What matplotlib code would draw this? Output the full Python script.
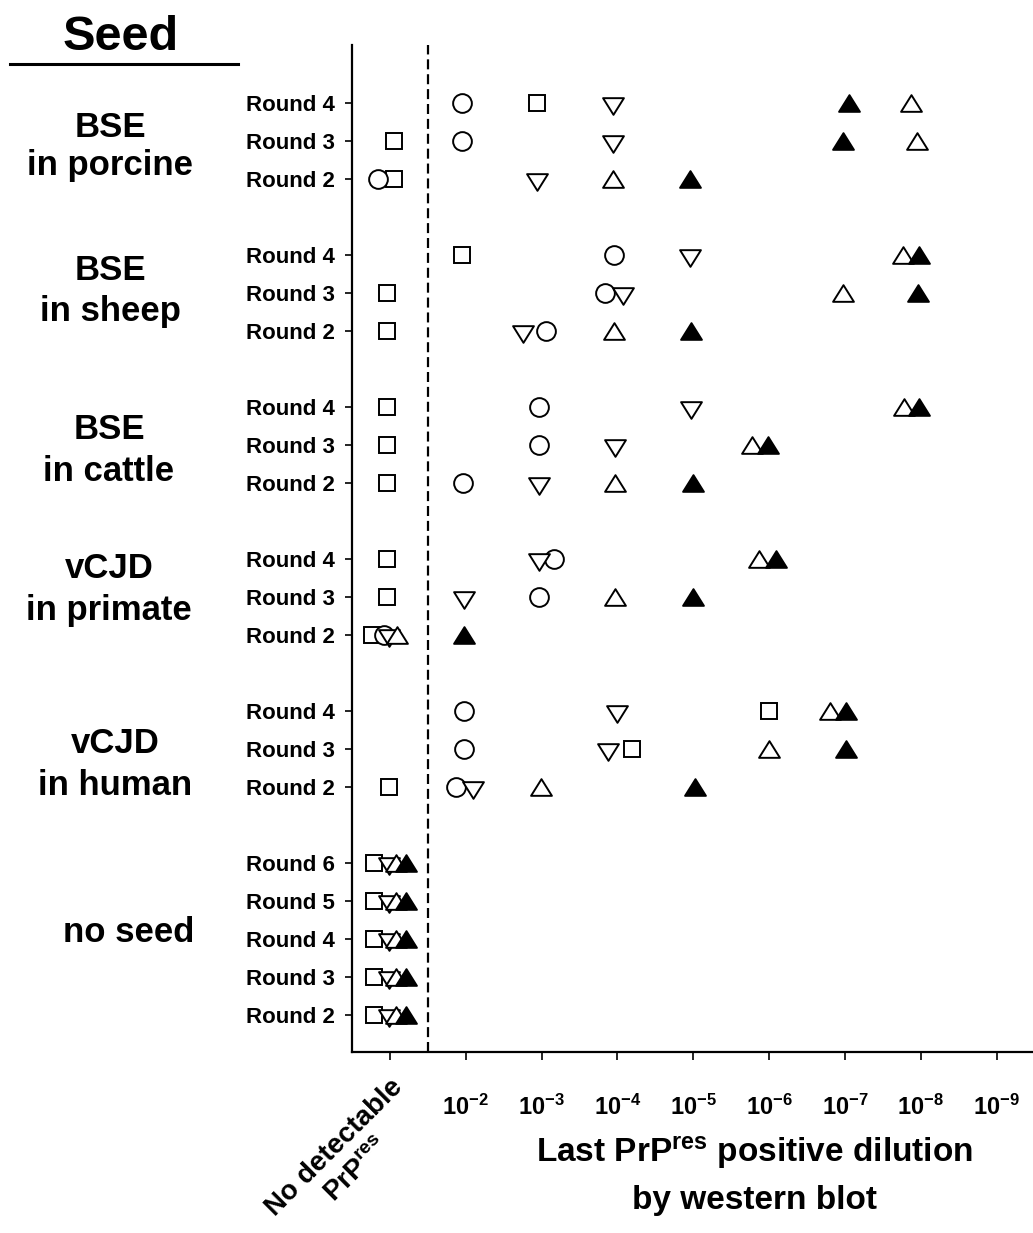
import numpy as np
import matplotlib.pyplot as plt
from matplotlib.path import Path
from matplotlib.lines import Line2D
from matplotlib.transforms import blended_transform_factory

plt.rcParams['font.family'] = 'Liberation Sans'
plt.rcParams['mathtext.fontset'] = 'custom'
plt.rcParams['mathtext.rm'] = 'Liberation Sans:bold'
plt.rcParams['mathtext.it'] = 'Liberation Sans:bold'
plt.rcParams['mathtext.bf'] = 'Liberation Sans:bold'

nan = np.nan

# rows top to bottom; x position 1 = no detectable PrPres, k = last positive at 10^-k
groups = ["BSE in porcine", "BSE in sheep", "BSE in cattle",
          "vCJD in primate", "vCJD in human", "no seed"]
group_rounds = [[4, 3, 2], [4, 3, 2], [4, 3, 2], [4, 3, 2], [4, 3, 2], [6, 5, 4, 3, 2]]
dilution_exp = [2, 3, 4, 5, 6, 7, 8, 9]

circle_x = [1.95, 1.95, 0.84,  3.96, 3.84, 3.06,  2.96, 2.96, 1.96,
            3.17, 2.97, 0.92,  1.98, 1.98, 1.87,  nan, nan, nan, nan, nan]
square_x = [2.94, 1.05, 1.05,  1.95, 0.96, 0.96,  0.96, 0.96, 0.96,
            0.96, 0.96, 0.77,  6.00, 4.19, 0.99,  0.79, 0.79, 0.79, 0.79, 0.79]
down_x = [3.94, 3.94, 2.94,  4.96, 4.07, 2.75,  4.97, 3.97, 2.96,
          2.96, 1.98, 0.99,  3.99, 3.88, 2.09,  0.99, 0.99, 0.99, 0.99, 0.99]
open_up_x = [7.87, 7.95, 3.94,  7.77, 6.97, 3.96,  7.78, 5.78, 3.97,
             5.87, 3.97, 1.09,  6.80, 6.00, 2.99,  1.08, 1.08, 1.08, 1.08, 1.08]
filled_up_x = [7.06, 6.97, 4.96,  7.98, 7.97, 4.97,  7.98, 5.99, 4.99,
               6.09, 5.00, 1.98,  7.01, 7.01, 5.02,  1.21, 1.21, 1.21, 1.21, 1.21]

# layout
W, H = 1033, 1233
row_y = []
slot = 0
for rounds in group_rounds:
    for _ in rounds:
        row_y.append(slot)
        slot += 1
    slot += 1
row_y = np.array(row_y, dtype=float)
row_labels = [f"Round {r}" for rs in group_rounds for r in rs]

label_xc = [110, 110, 109, 109, 115, 129]           # pixel centres
label_rows = [(0.9, 1.9), (4.66, 5.73), (8.84, 9.94), (12.5, 13.6), (17.1, 18.2), (22.07,)]

fig = plt.figure(figsize=(W / 100, H / 100), dpi=100)
ax = fig.add_axes([352 / W, 1 - 1052 / H, 1 - 352 / W, (1052 - 45) / H])

tri_up = Path([(0, 0.8), (-1, -0.8), (1, -0.8), (0, 0.8)],
              [Path.MOVETO, Path.LINETO, Path.LINETO, Path.CLOSEPOLY])
tri_dn = Path([(0, -0.8), (-1, 0.8), (1, 0.8), (0, -0.8)],
              [Path.MOVETO, Path.LINETO, Path.LINETO, Path.CLOSEPOLY])

kw = dict(ls='none', mec='black', mew=1.4, clip_on=False)
ax.plot(square_x, row_y, marker='s', ms=11, mfc='white', zorder=3, **kw)
ax.plot(circle_x, row_y, marker='o', ms=13.5, mfc='white', zorder=4, **kw)
ax.plot(down_x, row_y + 0.08, marker=tri_dn, ms=15, mfc='white', zorder=5, **kw)
ax.plot(open_up_x, row_y, marker=tri_up, ms=15, mfc='white', zorder=6, **kw)
ax.plot(filled_up_x, row_y, marker=tri_up, ms=15, mfc='black', zorder=7, **kw)

ax.axvline(1.5, color='black', lw=1.6, ls=(0, (4.5, 2.2)), zorder=1)

ax.set_xlim(0.5, 9.48)
ax.set_ylim(24.97, -1.53)
for s in ('top', 'right'):
    ax.spines[s].set_visible(False)
for s in ('left', 'bottom'):
    ax.spines[s].set_linewidth(1.6)

ax.set_yticks(row_y)
ax.set_yticklabels(row_labels, fontsize=16, fontweight='bold')
ax.tick_params(axis='y', length=5, width=1.2, pad=7)

ax.set_xticks([1] + dilution_exp)
ax.set_xticklabels([''] + [rf'10$^{{-{k}}}$' for k in dilution_exp],
                   fontsize=17, fontweight='bold')
ax.tick_params(axis='x', length=6, width=1.2, pad=25)

trans = blended_transform_factory(fig.transFigure, ax.transData)
for name, xc, ys in zip(groups, label_xc, label_rows):
    parts = name.split(' ', 1) if len(ys) == 2 else [name]
    for txt, y in zip(parts, ys):
        ax.text(xc / W, y, txt, transform=trans, ha='center', va='baseline',
                fontsize=25, fontweight='bold', clip_on=False)

fig.text(121 / W, 1 - 50 / H, 'Seed', ha='center', va='baseline',
         fontsize=35, fontweight='bold')
fig.add_artist(Line2D([10 / W, 238 / W], [1 - 64 / H, 1 - 64 / H],
                      transform=fig.transFigure, color='black', lw=2.2))

fig.text(390 / W, 1 - 1074 / H, 'No detectable\nPrP$^{res}$', rotation=45,
         rotation_mode='anchor', ha='right', va='top', multialignment='center',
         fontsize=20, fontweight='bold', linespacing=1.25)

fig.text(754 / W, 1 - 1162 / H, 'Last PrP$^{res}$ positive dilution',
         ha='center', va='baseline', fontsize=24, fontweight='bold')
fig.text(754 / W, 1 - 1209 / H, 'by western blot',
         ha='center', va='baseline', fontsize=24, fontweight='bold')

fig.savefig('out.png', dpi=100)
